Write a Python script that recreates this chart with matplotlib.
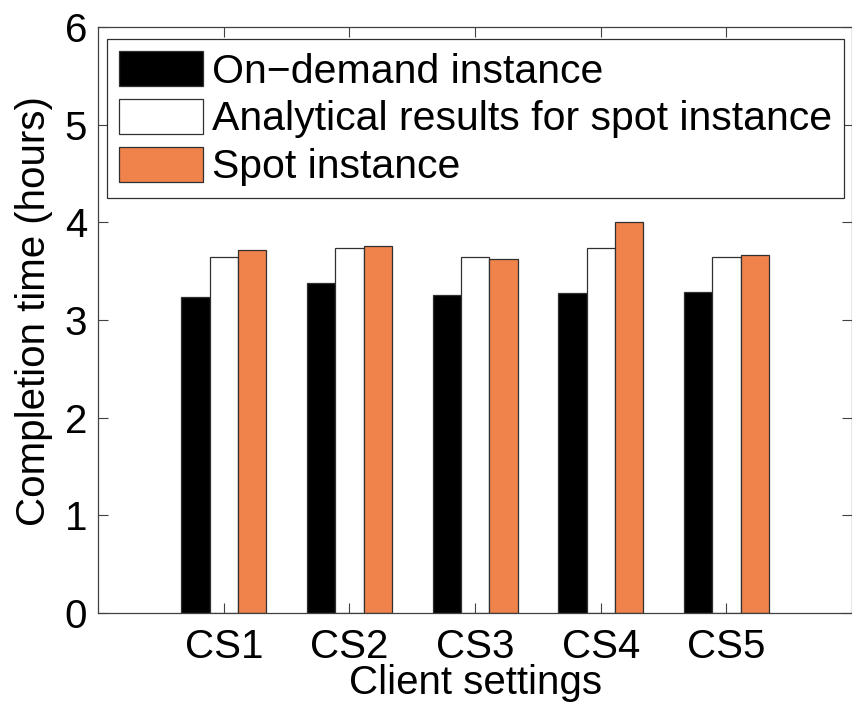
import numpy as np
import matplotlib.pyplot as plt

plt.rcParams['font.family'] = ['Liberation Sans', 'DejaVu Sans']

# values (hours)
settings = ['CS1', 'CS2', 'CS3', 'CS4', 'CS5']
on_demand = [3.24, 3.38, 3.26, 3.28, 3.29]
analytical = [3.64, 3.74, 3.64, 3.74, 3.64]
spot = [3.72, 3.76, 3.62, 4.00, 3.67]
series_names = ['On\u2212demand instance', 'Analytical results for spot instance', 'Spot instance']
series_colors = ['black', 'white', '#f0834b']

fig = plt.figure(figsize=(8.53, 7.08), dpi=100)
ax = fig.add_axes([0.115, 0.134, 0.884, 0.828])

x = np.arange(1, len(settings) + 1)
w = 0.225
for i, (vals, name, col) in enumerate(zip([on_demand, analytical, spot], series_names, series_colors)):
    ax.bar(x + (i - 1) * w, vals, w, color=col, edgecolor='#303030', linewidth=0.9, label=name)

ax.set_xlim(0, 6)
ax.set_ylim(0, 6)
ax.set_xticks(x)
ax.set_xticklabels(settings)
ax.set_yticks(range(7))
ax.tick_params(direction='in', length=7, width=0.8, top=True, right=True,
               labelsize=29, color='#404040')
ax.tick_params(axis='x', pad=11)
ax.tick_params(axis='y', pad=8)
for s in ax.spines.values():
    s.set_color('#404040')
    s.set_linewidth(0.9)

ax.set_xlabel('Client settings', fontsize=29, labelpad=-2)
ax.set_ylabel('Completion time (hours)', fontsize=29)
ax.yaxis.set_label_coords(-0.06, 0.515)

leg = ax.legend(loc='upper left', bbox_to_anchor=(0.012, 0.98), borderaxespad=0,
                fontsize=29.5, fancybox=False, framealpha=1, edgecolor='#303030',
                handlelength=2.05, handleheight=0.94, handletextpad=0.2,
                labelspacing=0.2, borderpad=0.3)
leg.get_frame().set_linewidth(0.9)

fig.savefig('out.png', dpi=100)
